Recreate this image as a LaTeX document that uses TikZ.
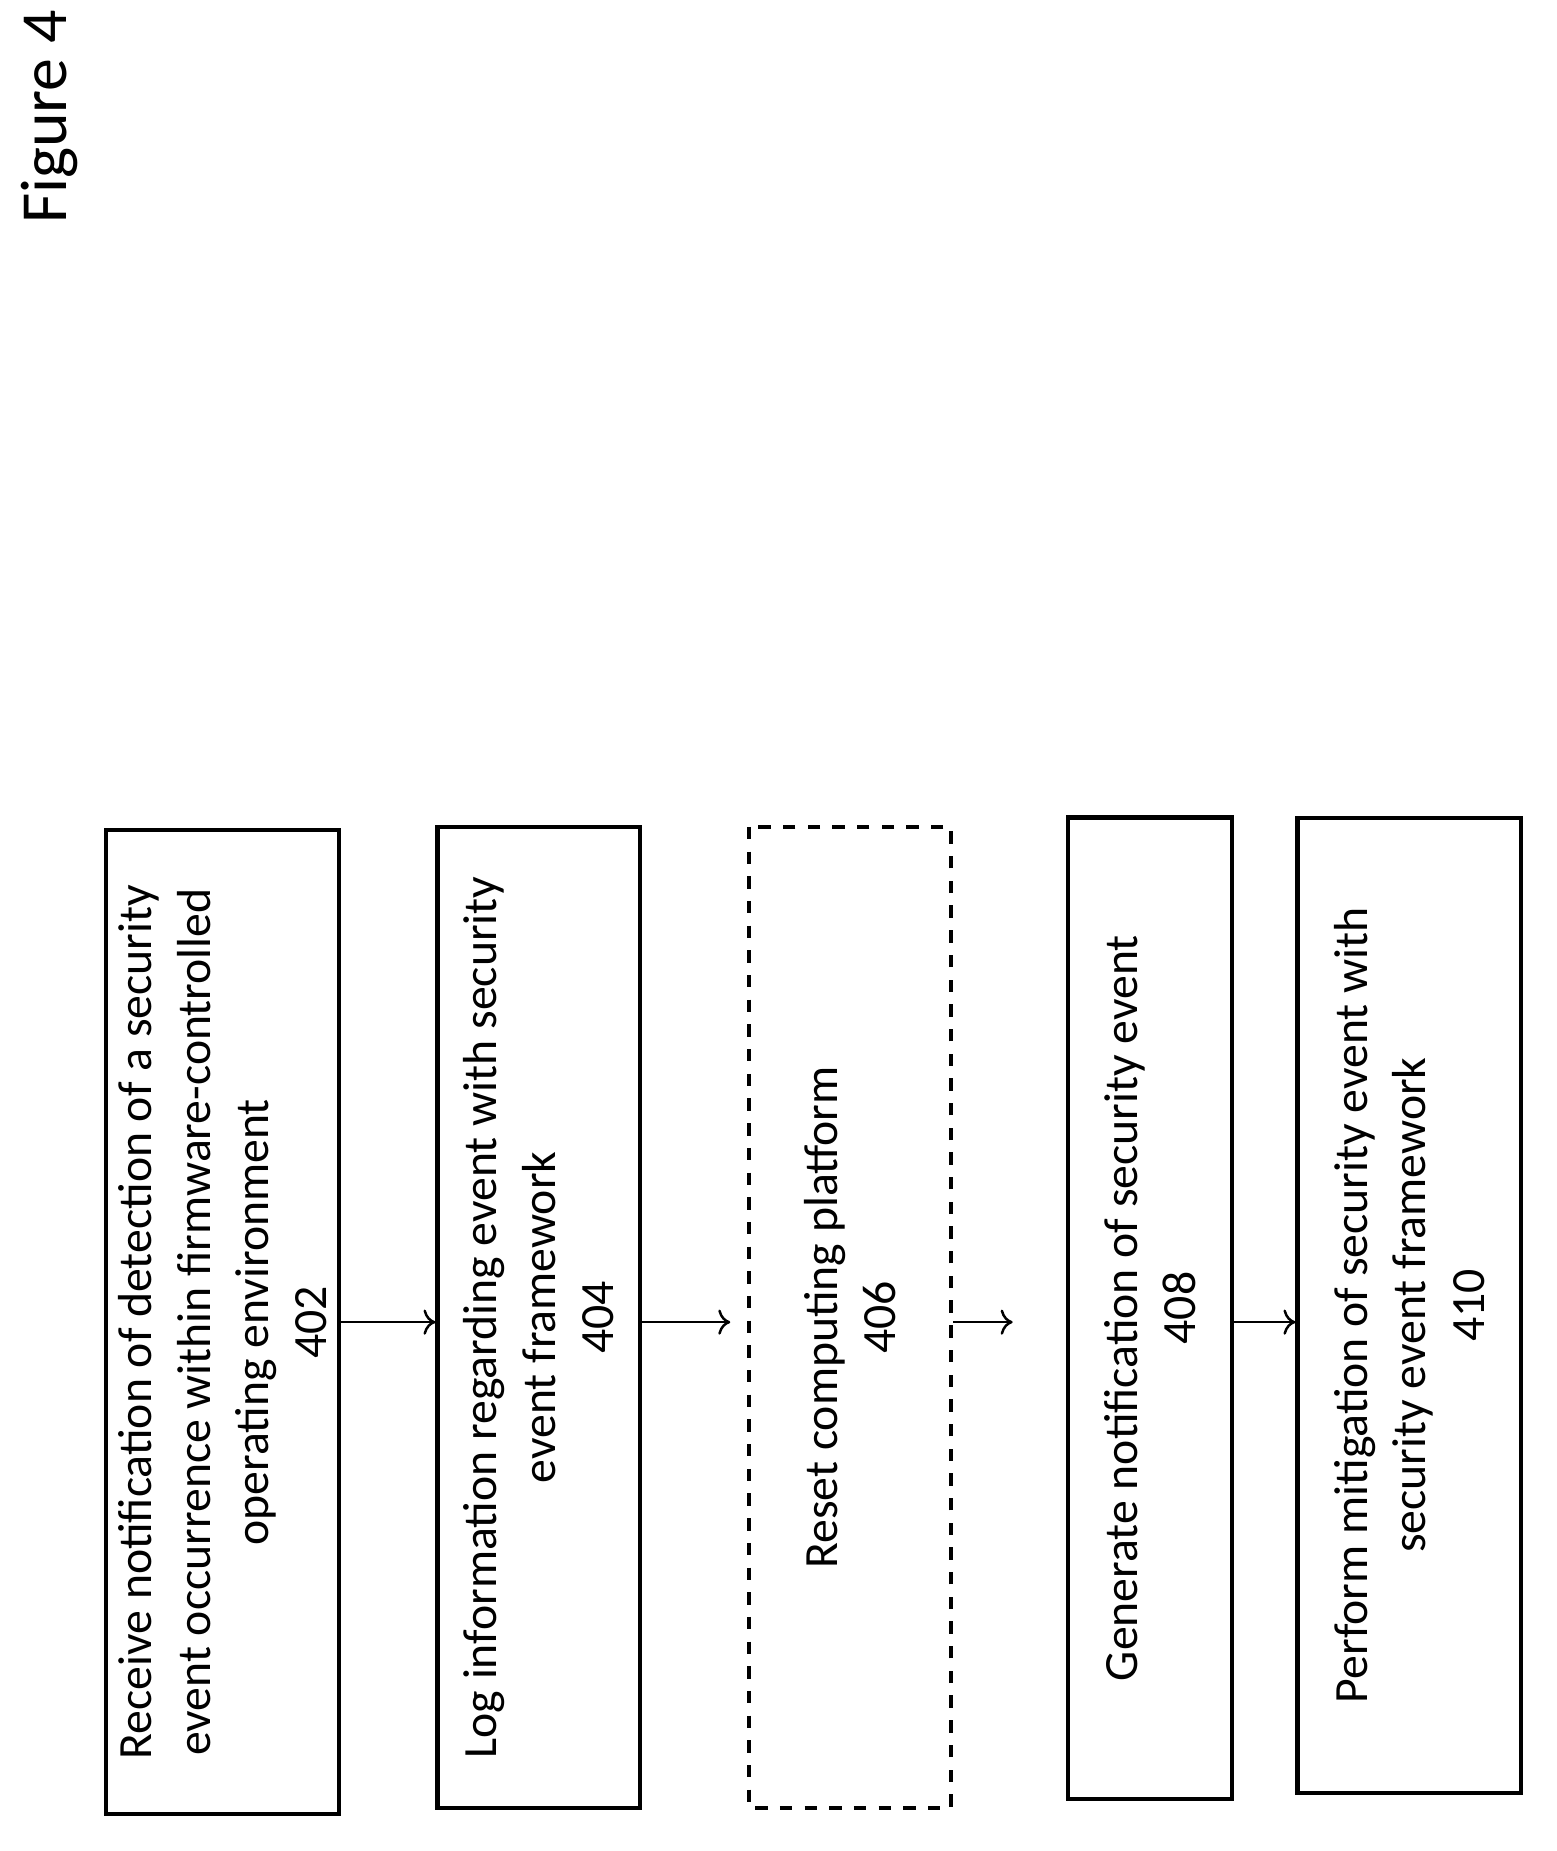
\documentclass[tikz,border=0pt]{standalone}
\usepackage{fontspec}
\setmainfont{Carlito}
\usetikzlibrary{arrows.meta,positioning}

\begin{document}
\begin{tikzpicture}[x=0.01cm,y=0.01cm,
    stepbox/.style={draw,line width=1pt,rotate=90,align=center,inner sep=0pt,
        font=\fontsize{11.6}{14.2}\selectfont},
    flow/.style={->,line width=0.6pt}]
    \useasboundingbox (0,0) rectangle (1330,1582);

    % Title
    \node[rotate=90,font=\fontsize{16}{18}\selectfont] (title) at (42,1482) {Figure 4};

    % Steps
    \node[stepbox,minimum width=8.4cm,minimum height=1.99cm] (s402) at (190.5,452)
        {Receive notification of detection of a security\\
         event occurrence within firmware-controlled\\
         operating environment\\ 402};
    \node[stepbox,minimum width=8.38cm,minimum height=1.73cm] (s404) at (460.5,456)
        {Log information regarding event with security\\
         event framework\\ 404};
    \node[stepbox,dashed,minimum width=8.38cm,minimum height=1.73cm] (s406) at (726.5,456)
        {Reset computing platform\\ 406};
    \node[stepbox,minimum width=8.38cm,minimum height=1.4cm] (s408) at (983,464)
        {Generate notification of security event\\ 408};
    \node[stepbox,minimum width=8.33cm,minimum height=1.91cm] (s410) at (1204.5,466.5)
        {Perform mitigation of security event with\\
         security event framework\\ 410};

    % Connectors
    \draw[flow] (s402.south) -- (s402.south -| s404.north);
    \draw[flow] (s402.south -| s404.south) -- ([xshift=-4]s402.south -| s406.north);
    \draw[flow] (s402.south -| s406.south) -- ([xshift=-13]s402.south -| s408.north);
    \draw[flow] (s402.south -| s408.south) -- (s402.south -| s410.north);
\end{tikzpicture}
\end{document}
